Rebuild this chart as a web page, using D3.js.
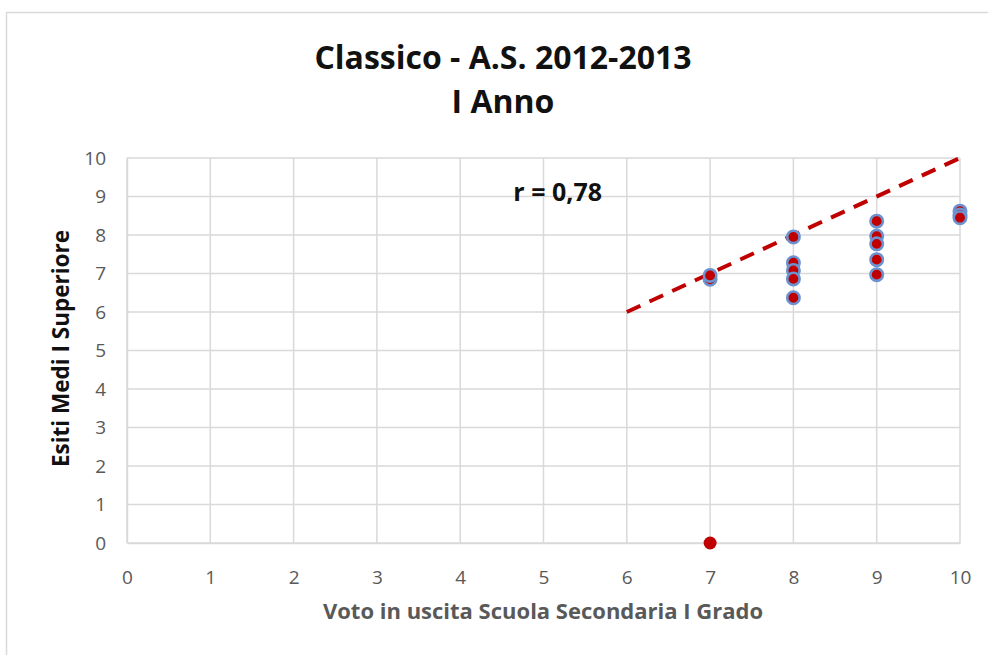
<!DOCTYPE html>
<html><head><meta charset="utf-8">
<script src="https://cdn.jsdelivr.net/npm/d3@7"></script>
<style>html,body{margin:0;padding:0;background:#fff;overflow:hidden}</style>
</head><body>
<svg id="c" width="988" height="655"></svg>
<script>
const titleLines = ["Classico - A.S. 2012-2013", "I Anno"];
const xTicks = [0,1,2,3,4,5,6,7,8,9,10];
const yTicks = [0,1,2,3,4,5,6,7,8,9,10];
const xLabel = "Voto in uscita Scuola Secondaria I Grado";
const yLabel = "Esiti Medi I Superiore";
const votoX = [7,7,8,8,8,8,8,9,9,9,9,9,10,10,10];
const esitoY = [6.85,6.95,7.95,7.28,7.08,6.86,6.37,8.36,7.97,7.77,7.36,6.97,8.62,8.52,8.45];
const outlierX = [7];
const outlierY = [0];
const trendX = [6,10];
const trendY = [6,10];
const rLabel = "r = 0,78";
const rPos = [5.17, 9.12];

const svg = d3.select("#c");
const font = "Open Sans, Noto Sans, sans-serif";
svg.append("rect").attr("x",6.5).attr("y",12.5).attr("width",1000).attr("height",700)
  .attr("fill","#fff").attr("stroke","#d9d9d9").attr("stroke-width",1.5);

const x = d3.scaleLinear().domain([0,10]).range([127,960]);
const y = d3.scaleLinear().domain([0,10]).range([543,158]);

// gridlines
svg.append("g").selectAll("line").data(xTicks).join("line")
  .attr("x1",d=>x(d)).attr("x2",d=>x(d)).attr("y1",y(0)).attr("y2",y(10))
  .attr("stroke","#d9d9d9").attr("stroke-width",1.5);
svg.append("g").selectAll("line").data(yTicks).join("line")
  .attr("y1",d=>y(d)).attr("y2",d=>y(d)).attr("x1",x(0)).attr("x2",x(10))
  .attr("stroke","#d9d9d9").attr("stroke-width",1.5);

// axes via d3 axis
const xa = svg.append("g").attr("transform",`translate(0,${y(0)})`)
  .call(d3.axisBottom(x).tickValues(xTicks).tickSize(0).tickPadding(28).tickFormat(d3.format("d")));
xa.select(".domain").attr("stroke","#d9d9d9").attr("stroke-width",1.5);
xa.selectAll("text").attr("font-family",font).attr("font-size",19).attr("fill","#595959");
const ya = svg.append("g").attr("transform",`translate(${x(0)},0)`)
  .call(d3.axisLeft(y).tickValues(yTicks).tickSize(0).tickPadding(21).tickFormat(d3.format("d")));
ya.select(".domain").attr("stroke","#d9d9d9").attr("stroke-width",1.5);
ya.selectAll("text").attr("font-family",font).attr("font-size",19).attr("fill","#595959");

// title
svg.append("g").selectAll("text").data(titleLines).join("text")
  .attr("x",503).attr("y",(d,i)=>69+i*44).attr("text-anchor","middle")
  .attr("font-family",font).attr("font-weight","bold").attr("font-size",32).attr("fill","#111")
  .text(d=>d);

// axis titles
svg.append("text").attr("x",543).attr("y",619).attr("text-anchor","middle")
  .attr("font-family",font).attr("font-weight","bold").attr("font-size",22).attr("fill","#595959")
  .text(xLabel);
svg.append("text").attr("transform",`translate(69,${y(5)-2}) rotate(-90)`).attr("text-anchor","middle")
  .attr("font-family",font).attr("font-weight","bold").attr("font-size",22.5).attr("fill","#111")
  .text(yLabel);

// trend line
svg.append("path").datum(trendX.map((d,i)=>[d,trendY[i]]))
  .attr("d",d3.line().x(d=>x(d[0])).y(d=>y(d[1])))
  .attr("fill","none").attr("stroke","#C00000").attr("stroke-width",4).attr("stroke-dasharray","15,10");

// points
svg.append("g").selectAll("circle").data(votoX.map((d,i)=>[d,esitoY[i]])).join("circle")
  .attr("cx",d=>x(d[0])).attr("cy",d=>y(d[1])).attr("r",6.2)
  .attr("fill","#C00000").attr("stroke","#6C93CF").attr("stroke-width",2.6);
svg.append("g").selectAll("circle").data(outlierX.map((d,i)=>[d,outlierY[i]])).join("circle")
  .attr("cx",d=>x(d[0])).attr("cy",d=>y(d[1])).attr("r",6.5)
  .attr("fill","#C00000");

svg.append("text").attr("x",x(rPos[0])).attr("y",y(rPos[1])).attr("text-anchor","middle")
  .attr("dy","0.35em").attr("font-family",font).attr("font-weight","bold").attr("font-size",25).attr("fill","#111")
  .text(rLabel);
</script>
</body></html>
